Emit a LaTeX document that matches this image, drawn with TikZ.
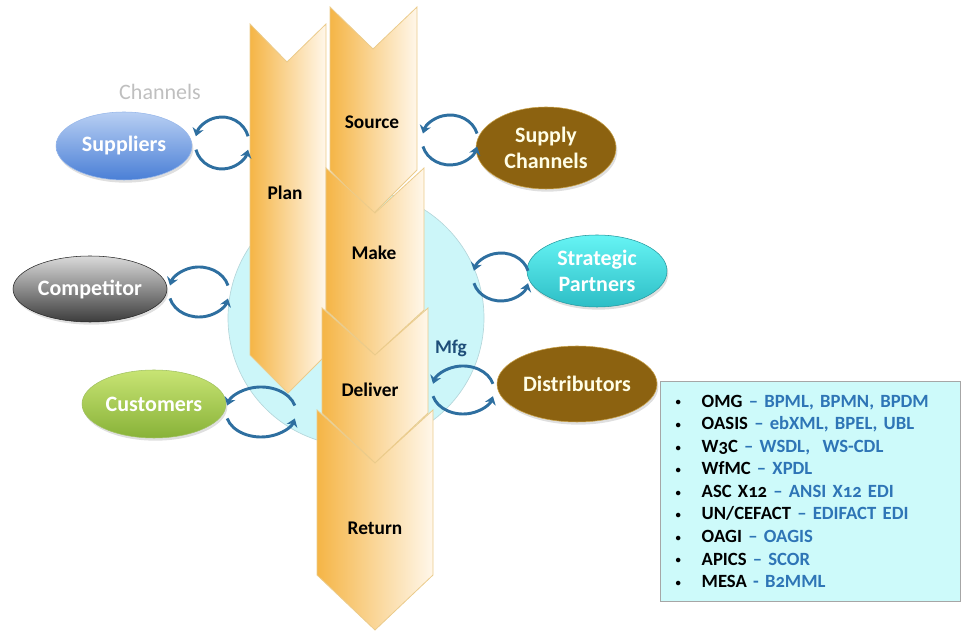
\documentclass[tikz,border=0pt]{standalone}
\usepackage{fontspec}
\setmainfont{Carlito}[Numbers=OldStyle]
\usetikzlibrary{shapes.geometric,arrows.meta,shadows}

\definecolor{chevL}{HTML}{F5B546}
\definecolor{chevR}{HTML}{FFF7EA}
\definecolor{chevEdge}{HTML}{EBCB8B}
\definecolor{mfgCyan}{HTML}{CCF6F9}
\definecolor{mfgEdge}{HTML}{B5D6DA}
\definecolor{mfgBlue}{HTML}{1F4E79}
\definecolor{cycBlue}{HTML}{2E6FA0}
\definecolor{supTop}{HTML}{B8CFF3}
\definecolor{supBot}{HTML}{4A7FD6}
\definecolor{comTop}{HTML}{DADADA}
\definecolor{comBot}{HTML}{3C3C3C}
\definecolor{cusTop}{HTML}{C8E474}
\definecolor{cusBot}{HTML}{88B238}
\definecolor{strTop}{HTML}{66F4F4}
\definecolor{strBot}{HTML}{2DBEC6}
\definecolor{brownFill}{HTML}{8C6210}
\definecolor{brownEdge}{HTML}{C9A24A}
\definecolor{boxFill}{HTML}{CDFAFA}
\definecolor{stdBlue}{HTML}{2E75B6}

\tikzset{
  party/.style={ellipse, inner sep=0pt, align=center, text=white,
    font=\bfseries\fontsize{16.5}{19}\selectfont,
    drop shadow={shadow xshift=1pt, shadow yshift=-2pt, opacity=.25}},
  stage/.style={left color=chevL, right color=chevR, draw=chevEdge, line width=.6pt},
  stagelabel/.style={font=\bfseries\fontsize{14.5}{16}\selectfont},
  cyc/.style={draw=cycBlue, line width=2.2pt, -{Stealth[length=6pt,width=8.5pt]}},
  stdbox/.style={draw=gray!70, fill=boxFill, line width=.6pt, align=left,
    minimum height=165pt, text width=205pt, inner xsep=10pt,
    font=\bfseries\fontsize{14}{16.9}\selectfont}
}

\newcommand{\cyclearrows}[3]{%
  \draw[cyc] (#1) ++(15:#2 and #3) arc[start angle=15, end angle=165, x radius=#2, y radius=#3];
  \draw[cyc] (#1) ++(195:#2 and #3) arc[start angle=195, end angle=345, x radius=#2, y radius=#3];
}
\newcommand{\std}[3][–]{\makebox[21pt][l]{\hspace{1.5pt}\raisebox{1pt}{\fontsize{8}{8}\selectfont •}}#2 \textcolor{stdBlue}{#1 #3}}

\begin{document}
\begin{tikzpicture}[x=0.75pt, y=0.75pt]
\useasboundingbox (0,0) rectangle (961,632);

% manufacturing hub
\draw[fill=mfgCyan, draw=mfgEdge, line width=.5pt] (356,314) circle[radius=128];

% process chevrons
\path[stage] (250,608) -- (287,570) -- (326,608) -- (326,277) -- (288,239) -- (250,277) -- cycle;
\path[stage] (330,625) -- (373,583) -- (417,625) -- (417,462) -- (373,418) -- (330,462) -- cycle;
\path[stage] (326,464) -- (375,419) -- (424,464) -- (424,322) -- (375,277) -- (326,322) -- cycle;
\path[stage] (322,324) -- (375,277) -- (428,324) -- (428,219) -- (375,169) -- (322,219) -- cycle;
\path[stage] (317,222) -- (375,169) -- (433,222) -- (433,57) -- (375,2) -- (317,57) -- cycle;

\node[stagelabel] (plan) at (285,439) {Plan};
\node[stagelabel] (source) at (372,510) {Source};
\node[stagelabel] (make) at (374,379) {Make};
\node[stagelabel] (deliver) at (370,242) {Deliver};
\node[stagelabel] (return) at (375,104) {Return};
\node[font=\bfseries\fontsize{14.5}{16}\selectfont, text=mfgBlue] (mfg) at (451,284) {Mfg};

% partners
\node[party, minimum width=102pt, minimum height=51pt, top color=supTop, bottom color=supBot, draw=supTop!70!supBot] (sup) at (124,486) {Suppliers};
\node[party, minimum width=115.5pt, minimum height=49.5pt, top color=comTop, bottom color=comBot, draw=black!85] (com) at (90,343) {Competitor};
\node[party, minimum width=108pt, minimum height=51pt, top color=cusTop, bottom color=cusBot, draw=cusBot!80!white] (cus) at (154,228) {Customers};
\node[party, minimum width=105pt, minimum height=61.5pt, fill=brownFill, draw=brownEdge, text=white!90!yellow] (sch) at (546,484) {Supply\\Channels};
\node[party, minimum width=105pt, minimum height=54pt, top color=strTop, bottom color=strBot, draw=strBot!80!black] (str) at (597,361) {Strategic\\Partners};
\node[party, minimum width=120pt, minimum height=57pt, fill=brownFill, draw=brownEdge, text=white!90!yellow] (dis) at (577,248) {Distributors};
\node[font=\fontsize{16.5}{18}\selectfont, text=black!25] (chan) at (160,540) {Channels};

% exchange cycles
\coordinate (cSup) at (222,489);
\coordinate (cCom) at (199,340);
\coordinate (cCus) at (261,220);
\coordinate (cSch) at (450,492);
\coordinate (cStr) at (501,355);
\coordinate (cDis) at (463,242);
\cyclearrows{cSup}{27}{26}
\cyclearrows{cCom}{30}{25}
\cyclearrows{cCus}{35}{25}
\cyclearrows{cSch}{28}{25}
\cyclearrows{cStr}{28}{24}
\cyclearrows{cDis}{31}{24}

% standards
\node[stdbox, anchor=north west] (stds) at (660,251) {%
  \std{OMG}{BPML, BPMN, BPDM}\\
  \std{OASIS}{ebXML, BPEL, UBL}\\
  \std{W3C}{WSDL,\ \ WS-CDL}\\
  \std{WfMC}{XPDL}\\
  \std{ASC X12}{ANSI X12 EDI}\\
  \std{UN/CEFACT}{EDIFACT EDI}\\
  \std{OAGI}{OAGIS}\\
  \std{APICS}{SCOR}\\
  \std[-]{MESA}{B2MML}};
\end{tikzpicture}
\end{document}
